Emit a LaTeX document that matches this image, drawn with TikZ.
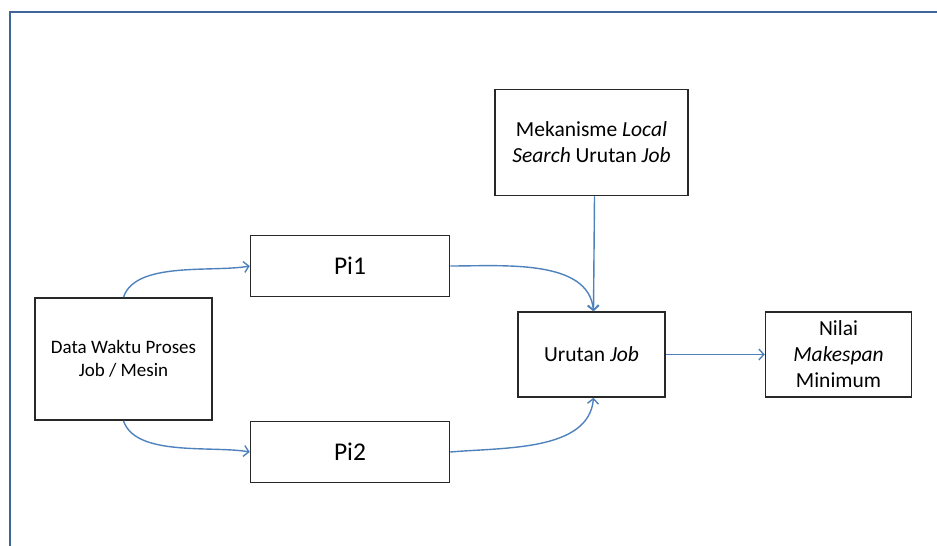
\documentclass[tikz,border=0pt]{standalone}
\usepackage{fontspec}
\setmainfont{Carlito}
\usepackage{tikz}
\usepackage{xcolor}
\usetikzlibrary{arrows.meta, positioning, calc}
\definecolor{cFrame}{RGB}{64,102,154}
\definecolor{cLine}{RGB}{79,129,189}
\definecolor{cBorder}{RGB}{40,40,40}
\tikzset{
	% flow diagram styles
	blk/.style   ={rectangle, draw=cBorder, line width=1.5pt, align=center, inner sep=2pt, font=\fontsize{21.5}{26}\selectfont},
	datablk/.style={blk, minimum width=177pt, minimum height=122pt, font=\fontsize{19}{23}\selectfont},
	piblk/.style ={blk, minimum width=199pt, minimum height=61pt, font=\fontsize{25.5}{30}\selectfont},
	sig/.style   ={-{Straight Barb[length=5pt, width=11pt]}, cLine, line width=1.4pt},
	frame/.style ={cFrame, line width=2.6pt},
}
\begin{document}
\begin{tikzpicture}[x=1pt, y=-1pt, node distance=37pt]
			\useasboundingbox (0,0) rectangle (937,546);
			\draw[frame] (10,546) -- (10,12) -- (937,12);
			\node[datablk] (data) at (123.5,359) {Data Waktu Proses\\ Job / Mesin};
			\node[piblk, right=of data.north east, anchor=south west] (pi1) {Pi1};
			\node[piblk, right=of data.south east, anchor=north west] (pi2) {Pi2};
			\node[blk, minimum width=147pt, minimum height=85pt] (urut) at (591.5,354.5) {Urutan \textit{Job}};
			\node[blk, above=115pt of urut, minimum width=193pt, minimum height=106pt] (mek) {Mekanisme \textit{Local}\\ \textit{Search} Urutan \textit{Job}};
			\node[blk, right=99pt of urut, minimum width=146pt, minimum height=85pt] (nilai) {Nilai\\ \textit{Makespan}\\ Minimum};
			\draw[sig] (data.north) to[out=72, in=190, looseness=0.75] (pi1.west);
			\draw[sig] (data.south) to[out=-72, in=170, looseness=0.75] (pi2.west);
			\draw[sig] (pi1.east) to[out=0, in=95, looseness=0.9] ([xshift=2pt]urut.north);
			\draw[sig] (pi2.east) to[out=5, in=-95, looseness=0.9] ([xshift=2pt]urut.south);
			\draw[sig] ([xshift=3pt]mek.south) -- ([xshift=2pt]urut.north);
			\draw[sig] (urut) -- (nilai);
		\end{tikzpicture}
\end{document}
